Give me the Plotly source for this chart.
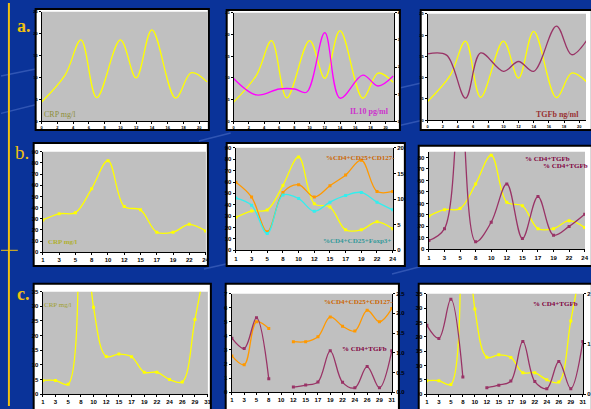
import plotly.graph_objects as go

W, H = 591, 409

# ---------------- data ----------------
# patient a (days 0-21)
days_a = [0, 3, 5, 7, 10, 12, 14, 17, 19, 21]
crp_a = [4.4, 10.6, 18.6, 5.4, 18.6, 9.9, 20.9, 5.3, 11.1, 9.0]
il10_days = [0, 3, 6, 8, 9.6, 12, 14, 17, 19, 21]
il10_a = [1.58, 0.97, 1.19, 1.19, 1.07, 3.27, 0.85, 1.70, 1.30, 1.67]
tgfb_days = [0, 2.5, 5, 7, 10, 12, 14, 17, 19, 21]
tgfb_a = [15.6, 15.3, 5.2, 15.8, 11.5, 13.8, 11.5, 22.1, 15.4, 18.8]
ticks_a = list(range(0, 21, 2))

# patient b
days_b = ['1', '3', '5', '8', '10', '12', '15', '17', '19', '22', '24']
crp_b = [29, 34.5, 35.5, 57, 82, 41, 38, 18, 18, 25, 19]
cd127_b = [13.3, 10.4, 3.6, 11.3, 12.8, 10.4, 12.6, 14.7, 17.6, 11.5, 11.5]
foxp3_b = [10.2, 8.8, 3.3, 10.8, 10.1, 7.6, 9.4, 10.7, 11.3, 9.4, 7.9]
tgfb_b = [7.7, 18, 140, 6.6, 23.7, 57, 9.4, 46, 12.3, 20, 30.6]

# patient c
days_c = ['1', '3', '5', '8', '10', '12', '15', '17', '19', '22', '24', '26', '29', '31']
crp_c = [4.7, 4.7, 3.4, 80, 29.7, 12.9, 13.7, 12.8, 7.5, 7.5, 5.0, 4.2, 25.5, 48]
cd127_c = [2.58, 1.95, 5.0, 4.53, None, 3.59, 3.59, 3.94, 5.35, 4.69, 4.34, 5.82, 5.0, 5.94]
tgfb_c = [1.37, 1.11, 1.89, 0.34, None, 0.13, 0.18, 0.26, 1.05, 0.25, 0.11, 0.65, 0.11, 1.05]

# ---------------- styles ----------------
YEL = '#ffff00'
MAG = '#ff00ff'
MAR = '#993366'
ORA = '#ff9900'
CYA = '#33eeee'
BLUE = '#0a3399'
GOLD = '#f0c010'


def dx(a, b):
    return [max(a / W, 0), min(b / W, 1)]


def dy(t, b):
    return [max(1 - b / H, 0), min(1 - t / H, 1)]


def axis(dom=None, anchor=None, size=5, **kw):
    d = dict(showline=True, linecolor='black', linewidth=1, ticks='outside', ticklen=2,
             tickwidth=1, tickcolor='black', showgrid=False, zeroline=False, fixedrange=True,
             tickfont=dict(family='Liberation Sans', size=size, color='black', weight='bold'))
    if dom is not None:
        d['domain'] = dom
    if anchor is not None:
        d['anchor'] = anchor
    d.update(kw)
    return d


fig = go.Figure()


def line(x, y, xa, ya, color, markers=False, width=1.3):
    fig.add_trace(go.Scatter(
        x=x, y=y, xaxis=xa, yaxis=ya,
        mode='lines+markers' if markers else 'lines',
        line=dict(color=color, width=width, shape='spline'),
        marker=dict(color=color, size=3, symbol='square'),
        connectgaps=False, showlegend=False, hoverinfo='skip'))


# panel a
line(days_a, crp_a, 'x', 'y', YEL)
line(days_a, crp_a, 'x2', 'y2', YEL)
line(il10_days, il10_a, 'x2', 'y10', MAG)
line(days_a, crp_a, 'x3', 'y3', YEL)
line(tgfb_days, tgfb_a, 'x3', 'y3', MAR)
# panel b
line(days_b, crp_b, 'x4', 'y4', YEL, True)
line(days_b, crp_b, 'x5', 'y5', YEL, True)
line(days_b, cd127_b, 'x5', 'y11', ORA, True)
line(days_b, foxp3_b, 'x5', 'y11', CYA, True)
line(days_b, crp_b, 'x6', 'y6', YEL, True)
line(days_b, tgfb_b, 'x6', 'y6', MAR, True)
# panel c
line(days_c, crp_c, 'x7', 'y7', YEL, True)
line(days_c, cd127_c, 'x8', 'y8', ORA, True)
line(days_c, tgfb_c, 'x8', 'y12', MAR, True)
line(days_c, crp_c, 'x9', 'y9', YEL, True)
line(days_c, tgfb_c, 'x9', 'y13', MAR, True)

# plot areas (pixel boxes) and white frames
plots = {
    1: (41, 209, 9, 120), 2: (235, 397, 10, 120), 3: (431, 591, 11, 119),
    4: (42, 207, 151, 253), 5: (237, 396, 147, 251), 6: (432, 590, 151, 250),
    7: (42, 209, 293, 397), 8: (233, 395, 295, 395), 9: (430, 588, 295, 397),
}
frames = [(35, 210, 6, 129), (228, 403, 7, 129), (424, 600, 7, 129),
          (33, 209, 142, 267), (228, 408, 142, 267), (422, 600, 145, 267),
          (33, 212, 285, 420), (227, 402, 285, 420), (422, 600, 285, 420)]

nb = len(days_b) - 1
nc = len(days_c) - 1
xr = {1: [0, 21.1], 2: [0, 21.1], 3: [0, 20.9],
      4: [-0.02, nb + 0.02], 5: [-0.02, nb + 0.02], 6: [-0.02, nb + 0.02],
      7: [-0.02, nc + 0.02], 8: [-0.02, nc + 0.02], 9: [-0.02, nc + 0.02]}
yr = {1: [0, 25], 2: [0, 25], 3: [0, 25], 4: [0, 90], 5: [0, 90], 6: [0, 85],
      7: [0, 35], 8: [0, 7], 9: [0, 35]}
ydt = {1: 5, 2: 5, 3: 5, 4: 10, 5: 10, 6: 10, 7: 5, 8: 1, 9: 5}

layout = {}
for i, (x0, x1, t, b) in plots.items():
    s = '' if i == 1 else str(i)
    fs = 4 if i <= 3 else 6
    if i <= 3:
        xa = axis(dx(x0, x1), 'y' + s, size=fs, range=xr[i], tickmode='array', tickvals=ticks_a)
    else:
        xa = axis(dx(x0, x1), 'y' + s, size=fs, type='category', range=xr[i])
    ya = axis(dy(t, b), 'x' + s, size=fs, range=yr[i], dtick=ydt[i], tick0=0)
    layout['xaxis' + s] = xa
    layout['yaxis' + s] = ya

layout['yaxis10'] = axis(None, 'x2', size=4, overlaying='y2', side='right', range=[0, 4], dtick=1)
layout['yaxis11'] = axis(None, 'x5', size=6, overlaying='y5', side='right', range=[0, 20], dtick=5)
layout['yaxis12'] = axis(None, 'x8', size=6, overlaying='y8', side='right', range=[0, 2.5], dtick=0.5,
                         tickformat='.1f')
layout['yaxis13'] = axis(None, 'x9', size=6, overlaying='y9', side='right', range=[0, 2], dtick=1)

shapes = []
# faint streaks on the blue background
for (a, b_, c, d) in [(0, 74, 40, 66), (0, 112, 40, 102), (395, 88, 430, 80), (395, 126, 430, 118),
                      (205, 270, 240, 262), (395, 275, 430, 266), (200, 140, 232, 132)]:
    shapes.append(dict(type='line', xref='paper', yref='paper', x0=a / W, y0=1 - b_ / H,
                       x1=c / W, y1=1 - d / H, line=dict(color='rgba(120,150,230,0.35)', width=1.5),
                       layer='below'))
for (x0, x1, t, b) in frames:
    shapes.append(dict(type='rect', xref='paper', yref='paper', x0=x0 / W, x1=min(x1 / W, 1.01),
                       y0=1 - b / H, y1=1 - t / H, fillcolor='white',
                       line=dict(color='black', width=2), layer='below'))
for i in plots:
    s = '' if i == 1 else str(i)
    shapes.append(dict(type='rect', xref='x' + s + ' domain', yref='y' + s + ' domain',
                       x0=0, x1=1, y0=0, y1=1, fillcolor='#c0c0c0', line=dict(width=0),
                       layer='below'))
# gold guide lines
shapes.append(dict(type='line', xref='paper', yref='paper', x0=8 / W, x1=8 / W, y0=0, y1=1,
                   line=dict(color=GOLD, width=2)))
shapes.append(dict(type='line', xref='paper', yref='paper', x0=0, x1=17 / W, y0=1 - 251 / H,
                   y1=1 - 251 / H, line=dict(color=GOLD, width=1)))


def txt(s, x, y, color, size=7, bold=True, family='Liberation Serif'):
    return dict(text=s, x=x / W, y=1 - y / H, xref='paper', yref='paper', showarrow=False,
                font=dict(family=family, size=size, color=color, weight='bold' if bold else 'normal'),
                xanchor='center', yanchor='middle')


ann = [
    txt('a.', 23, 23, GOLD, 18), txt('b.', 21, 152, GOLD, 19, bold=False), txt('c.', 23, 295, GOLD, 18),
    txt('CRP mg/l', 60, 113, '#8f8f3a', 8, bold=False),
    txt('IL10 pg/ml', 372, 110, '#cc33cc', 8),
    txt('TGFb ng/ml', 562, 113, '#993333', 8),
    txt('CRP mg/l', 62, 243, '#b0b030', 7),
    txt('%CD4+CD25+CD127-', 363, 157, '#cc6600', 7),
    txt('%CD4+CD25+Foxp3+', 360, 242, '#339999', 7),
    txt('% CD4+TGFb', 552, 158, '#800040', 7),
    txt('% CD4+TGFb', 570, 165, '#800040', 7),
    txt('CRP mg/l', 58, 306, '#a0a030', 7, bold=False),
    txt('%CD4+CD25+CD127-', 361, 303, '#cc6600', 7),
    txt('% CD4+TGFb', 367, 351, '#800040', 7),
    txt('% CD4+TGFb', 560, 305, '#800040', 7),
]

fig.update_layout(
    width=W, height=H, margin=dict(l=0, r=0, t=0, b=0),
    paper_bgcolor=BLUE, plot_bgcolor='rgba(0,0,0,0)',
    showlegend=False, shapes=shapes, annotations=ann, **layout)

fig.write_html('out.html', config={'displayModeBar': False},
               post_script="document.body.style.margin='0px';")
